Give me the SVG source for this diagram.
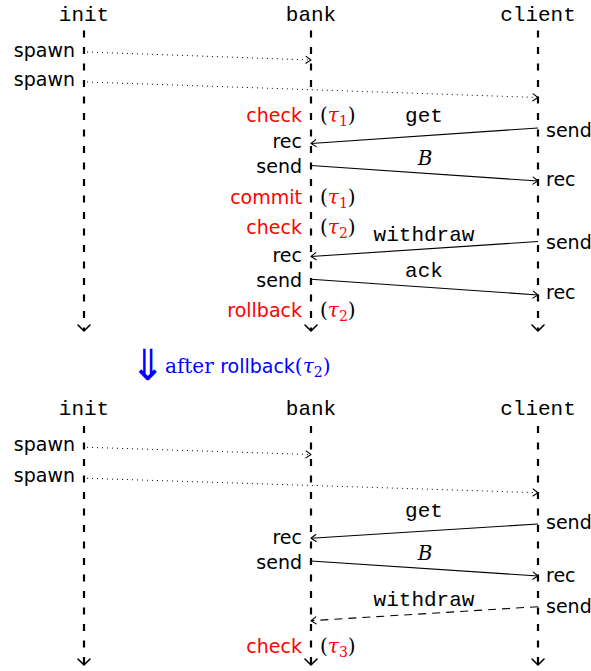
<svg xmlns="http://www.w3.org/2000/svg" width="591" height="671" viewBox="0 0 591 671">
<style>
.tt{font-family:"Liberation Mono","DejaVu Sans Mono",monospace;font-size:21px;fill:#000}
.ss{font-family:"DejaVu Sans","Noto Sans",sans-serif;font-size:19px;fill:#000}
.mm{font-family:"DejaVu Serif","Liberation Serif",serif;font-size:20px;fill:#000}
.big{font-family:"DejaVu Sans","Noto Sans",sans-serif;font-size:40px;font-weight:200;fill:#0000ff}
.red{fill:#ff0000}
.blue{fill:#0000ff}
.life{stroke:#000;stroke-width:2.2;stroke-dasharray:7 9.5;fill:none}
.msg{stroke:#000;stroke-width:1.1;fill:none}
.dot{stroke:#000;stroke-width:1;stroke-dasharray:1 4;fill:none}
.dash{stroke:#000;stroke-width:1.1;stroke-dasharray:8 6;fill:none}
</style>
<defs>
<marker id="ah" viewBox="-7 -5 9 10" refX="0" refY="0" markerWidth="9" markerHeight="10" markerUnits="userSpaceOnUse" orient="auto">
<path d="M-5,-3.5 L0,0 L-5,3.5" fill="none" stroke="#000" stroke-width="1.1" stroke-linecap="round" stroke-linejoin="round"/>
</marker>
<marker id="lh" viewBox="-9 -8 11 16" refX="0" refY="0" markerWidth="11" markerHeight="16" markerUnits="userSpaceOnUse" orient="auto">
<path d="M-6,-6 L0,0 L-6,6" fill="none" stroke="#000" stroke-width="1.6" stroke-linecap="round" stroke-linejoin="round"/>
</marker>
</defs>

<!-- ===== TOP ===== -->
<g id="top-init">
<text class="tt" x="84" y="21" text-anchor="middle">init</text>
<line class="life" x1="84" y1="30.5" x2="84" y2="331" marker-end="url(#lh)"/>
<text class="ss" x="75" y="57" text-anchor="end">spawn</text>
<text class="ss" x="75" y="86" text-anchor="end">spawn</text>
</g>
<g id="top-bank">
<text class="tt" x="311" y="21" text-anchor="middle">bank</text>
<line class="life" x1="311" y1="30.5" x2="311" y2="331" marker-end="url(#lh)"/>
<text class="ss red" x="302" y="122" text-anchor="end">check</text>
<text class="mm" x="320" y="122">(<tspan class="red" font-style="italic">τ</tspan><tspan class="red" font-size="14" dy="4">1</tspan><tspan dy="-4">)</tspan></text>
<text class="ss" x="302" y="148" text-anchor="end">rec</text>
<text class="ss" x="302" y="173" text-anchor="end">send</text>
<text class="ss red" x="302" y="204" text-anchor="end">commit</text>
<text class="mm" x="320" y="204">(<tspan class="red" font-style="italic">τ</tspan><tspan class="red" font-size="14" dy="4">1</tspan><tspan dy="-4">)</tspan></text>
<text class="ss red" x="302" y="234" text-anchor="end">check</text>
<text class="mm" x="320" y="234">(<tspan class="red" font-style="italic">τ</tspan><tspan class="red" font-size="14" dy="4">2</tspan><tspan dy="-4">)</tspan></text>
<text class="ss" x="302" y="261.5" text-anchor="end">rec</text>
<text class="ss" x="302" y="287.3" text-anchor="end">send</text>
<text class="ss red" x="302" y="316.7" text-anchor="end">rollback</text>
<text class="mm" x="320" y="316.7">(<tspan class="red" font-style="italic">τ</tspan><tspan class="red" font-size="14" dy="4">2</tspan><tspan dy="-4">)</tspan></text>
</g>
<g id="top-client">
<text class="tt" x="538" y="21" text-anchor="middle">client</text>
<line class="life" x1="538" y1="30.5" x2="538" y2="331" marker-end="url(#lh)"/>
<text class="ss" x="546" y="136.5">send</text>
<text class="ss" x="546" y="185.7">rec</text>
<text class="ss" x="546" y="249">send</text>
<text class="ss" x="546" y="299.3">rec</text>
</g>
<g id="top-connectors">
<line class="dot" x1="87" y1="52" x2="311" y2="60" marker-end="url(#ah)"/>
<line class="dot" x1="87" y1="82" x2="538" y2="97.5" marker-end="url(#ah)"/>
<line class="msg" x1="538" y1="128" x2="311" y2="143.5" marker-end="url(#ah)"/>
<text class="tt" x="424" y="121.7" text-anchor="middle">get</text>
<line class="msg" x1="311" y1="165.5" x2="538" y2="181" marker-end="url(#ah)"/>
<text class="mm" x="425" y="165" text-anchor="middle" font-style="italic">B</text>
<line class="msg" x1="538" y1="241.5" x2="311" y2="256.5" marker-end="url(#ah)"/>
<text class="tt" x="424" y="241" text-anchor="middle">withdraw</text>
<line class="msg" x1="311" y1="279.3" x2="538" y2="295" marker-end="url(#ah)"/>
<text class="tt" x="424" y="277.3" text-anchor="middle">ack</text>
</g>

<!-- ===== MIDDLE ===== -->
<g id="transition">
<text class="big" x="0" y="0" transform="translate(130,380) scale(1.05,1.07)">⇓</text>
<text class="mm blue" x="165" y="373.3">after <tspan class="ss blue">rollback</tspan>(<tspan font-style="italic">τ</tspan><tspan font-size="14" dy="4">2</tspan><tspan dy="-4">)</tspan></text>
</g>

<!-- ===== BOTTOM ===== -->
<g id="bot-init">
<text class="tt" x="84" y="415" text-anchor="middle">init</text>
<line class="life" x1="84" y1="426" x2="84" y2="665" marker-end="url(#lh)"/>
<text class="ss" x="75" y="451" text-anchor="end">spawn</text>
<text class="ss" x="75" y="481.7" text-anchor="end">spawn</text>
</g>
<g id="bot-bank">
<text class="tt" x="311" y="415" text-anchor="middle">bank</text>
<line class="life" x1="311" y1="426" x2="311" y2="665" marker-end="url(#lh)"/>
<text class="ss" x="302" y="544" text-anchor="end">rec</text>
<text class="ss" x="302" y="569.3" text-anchor="end">send</text>
<text class="ss red" x="302" y="652.7" text-anchor="end">check</text>
<text class="mm" x="320" y="652.7">(<tspan class="red" font-style="italic">τ</tspan><tspan class="red" font-size="14" dy="4">3</tspan><tspan dy="-4">)</tspan></text>
</g>
<g id="bot-client">
<text class="tt" x="538" y="415" text-anchor="middle">client</text>
<line class="life" x1="538" y1="426" x2="538" y2="665" marker-end="url(#lh)"/>
<text class="ss" x="546" y="529.3">send</text>
<text class="ss" x="546" y="581.7">rec</text>
<text class="ss" x="546" y="613.3">send</text>
</g>
<g id="bot-connectors">
<line class="dot" x1="87" y1="447.3" x2="311" y2="454.5" marker-end="url(#ah)"/>
<line class="dot" x1="87" y1="478.3" x2="538" y2="492.7" marker-end="url(#ah)"/>
<line class="msg" x1="538" y1="524" x2="311" y2="538.3" marker-end="url(#ah)"/>
<text class="tt" x="424" y="516.7" text-anchor="middle">get</text>
<line class="msg" x1="311" y1="561" x2="538" y2="576" marker-end="url(#ah)"/>
<text class="mm" x="425" y="560" text-anchor="middle" font-style="italic">B</text>
<line class="dash" x1="538" y1="606.7" x2="311" y2="620.7" marker-end="url(#ah)"/>
<text class="tt" x="424" y="606" text-anchor="middle">withdraw</text>
</g>
</svg>
